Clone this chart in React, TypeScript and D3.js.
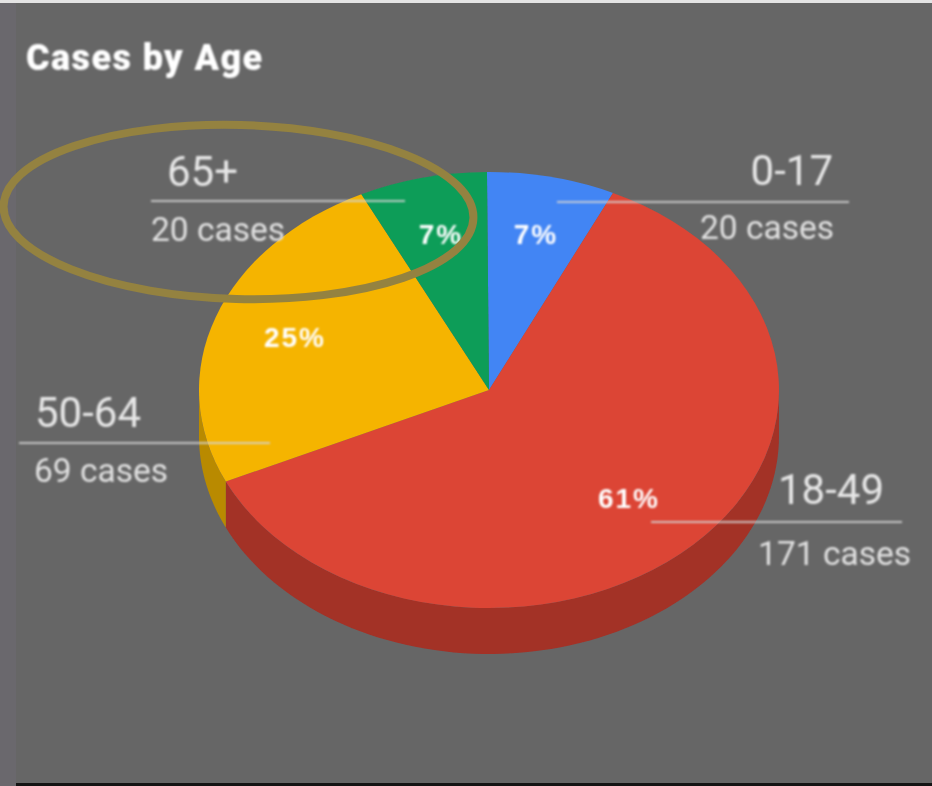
import React from "react";
import * as d3 from "d3";

const categories = ["0-17", "18-49", "50-64", "65+"];
const caseCounts = [20, 171, 69, 20];
const percentLabels = ["7%", "61%", "25%", "7%"];
const sliceColors = ["#4285f4", "#dc4435", "#f5b400", "#0f9d58"];
const wallColors = ["#2f62b5", "#a33127", "#b98a04", "#0b7040"];

const W = 932, H = 786;
const cx = 489, cy = 390, rx = 290, ry = 218, depth = 46;
const rotation = -0.007;

// Label layout: one entry per category
const titleLayout = { x: 26, y: 70 };
const nameLayout = [
  { x: 833, y: 185, anchor: "end" },
  { x: 884, y: 504, anchor: "end" },
  { x: 35, y: 427, anchor: "start" },
  { x: 167, y: 186, anchor: "start" },
];
const countLayout = [
  { x: 834, y: 239, anchor: "end" },
  { x: 911, y: 565, anchor: "end" },
  { x: 34, y: 482, anchor: "start" },
  { x: 151, y: 241, anchor: "start" },
];
const ruleLayout = [
  { x1: 557, x2: 849, y: 202 },
  { x1: 651, x2: 902, y: 522 },
  { x1: 19, x2: 270, y: 443 },
  { x1: 151, x2: 405, y: 201 },
];
const pctLayout = [
  { x: 536, y: 244 },
  { x: 629, y: 508 },
  { x: 295, y: 347 },
  { x: 441, y: 244 },
];

const pt = (a: number, dy = 0): [number, number] => [
  cx + rx * Math.sin(a),
  cy - ry * Math.cos(a) + dy,
];

export default function App() {
  const pie = d3
    .pie<number>()
    .sort(null)
    .startAngle(rotation)
    .endAngle(2 * Math.PI + rotation)(caseCounts);
  const arc = d3.arc<d3.PieArcDatum<number>>().innerRadius(0).outerRadius(rx);
  const line = d3.line();

  const wall = (d: d3.PieArcDatum<number>) => {
    const a0 = Math.max(d.startAngle, Math.PI / 2);
    const a1 = Math.min(d.endAngle, (Math.PI * 3) / 2);
    if (a1 <= a0) return null;
    const n = 80;
    const angs = d3.range(n + 1).map((i) => a0 + ((a1 - a0) * i) / n);
    const pts = [...angs.map((a) => pt(a, 0)), ...angs.slice().reverse().map((a) => pt(a, depth))];
    return line(pts) + "Z";
  };

  return (
    <svg
      width={W}
      height={H}
      viewBox={`0 0 ${W} ${H}`}
      style={{ position: "absolute", left: 0, top: 0, display: "block" }}
    >
      <defs>
        <filter id="soft" x="-5%" y="-20%" width="110%" height="140%">
          <feGaussianBlur stdDeviation="0.8" />
        </filter>
        <filter id="softer" x="-5%" y="-5%" width="110%" height="110%">
          <feGaussianBlur stdDeviation="0.6" />
        </filter>
      </defs>
      <rect x={0} y={0} width={W} height={H} fill="#6a686d" />
      <rect x={16} y={3} width={W - 16} height={H - 6} fill="#666666" />
      <rect x={0} y={0} width={W} height={3} fill="#e4e4e4" />
      <rect x={16} y={H - 3} width={W - 16} height={3} fill="#141414" />

      <g filter="url(#softer)">
        <g>
          {pie.map((d, i) => {
            const p = wall(d);
            return p ? <path key={i} d={p} fill={wallColors[i]} /> : null;
          })}
        </g>
        <g transform={`translate(${cx},${cy}) scale(1,${ry / rx})`}>
          {pie.map((d, i) => (
            <path key={i} d={arc(d) as string} fill={sliceColors[i]} />
          ))}
        </g>
      </g>

      <g filter="url(#soft)">
        {ruleLayout.map((r, i) => (
          <line key={i} x1={r.x1} x2={r.x2} y1={r.y} y2={r.y} stroke="#d4d4d4" strokeOpacity={0.85} strokeWidth={2} />
        ))}
        <text x={titleLayout.x} y={titleLayout.y} fontFamily="Roboto" fontWeight={900} fontSize={36} letterSpacing={1.4} fill="#ffffff">
          Cases by Age
        </text>
        {categories.map((c, i) => (
          <text key={c} x={nameLayout[i].x} y={nameLayout[i].y} textAnchor={nameLayout[i].anchor as any} fontFamily="Roboto" fontSize={42} fill="#e6e6e6">
            {c}
          </text>
        ))}
        {caseCounts.map((c, i) => (
          <text key={i} x={countLayout[i].x} y={countLayout[i].y} textAnchor={countLayout[i].anchor as any} fontFamily="Roboto" fontSize={33.5} fill="#e0e0e0">
            {`${c} cases`}
          </text>
        ))}
        {percentLabels.map((t, i) => (
          <text key={i} x={pctLayout[i].x} y={pctLayout[i].y} textAnchor="middle" fontFamily="Liberation Sans" fontWeight={700} fontSize={28} letterSpacing={2} fill="#ffffff">
            {t}
          </text>
        ))}
      </g>

      <ellipse cx={238.5} cy={212} rx={235} ry={87} fill="none" stroke="#948240" strokeWidth={8} transform="rotate(1.5 238.5 212)" />
    </svg>
  );
}
